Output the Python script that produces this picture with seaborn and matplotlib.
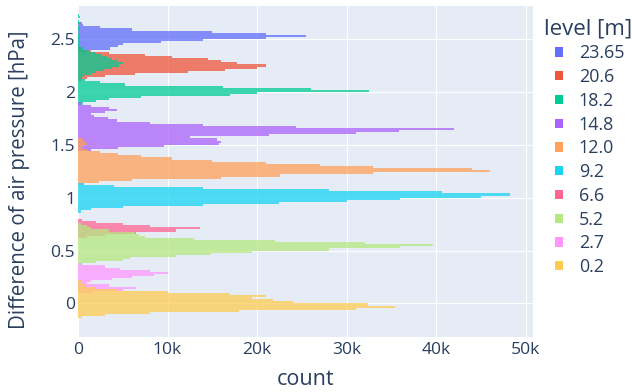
import numpy as np
import pandas as pd
import matplotlib
matplotlib.use("Agg")
import matplotlib.pyplot as plt
from matplotlib.patches import Patch
import seaborn as sns

# measurement levels (legend order) and their colours
levels = ["23.65", "20.6", "18.2", "14.8", "12.0", "9.2", "6.6", "5.2", "2.7", "0.2"]
palette = ["#636EFA", "#EF553B", "#00CC96", "#AB63FA", "#FFA15A",
           "#19D3F3", "#FF6692", "#B6E880", "#FF97FF", "#FECB52"]

bin_width = 0.02  # hPa

# lower edge of the first bin of each level [hPa]
first_edge = [2.38, 2.10, 1.88, 1.44, 1.12, 0.86, 0.62, 0.36, 0.10, -0.14]

# counts per bin in thousands, from low to high pressure difference
n_23_65 = [1, 3.6, 4.5, 5, 9.3, 14, 21, 25.5, 21, 15, 6, 2.5, 0.6, 0.4]
n_20_6 = [0.4, 1, 3, 6.4, 12.3, 16.4, 20, 21, 17.8, 16, 14.5, 10.5, 7.5, 3.5, 1.4, 0.5]
n_18_2 = [0.6, 2, 3.5, 7, 17, 20, 32.5, 26, 16.2, 5.2,
          2.5, 0.8, 0.5, 0.7, 1.4, 2, 2.9, 3.8, 4.6, 5,
          4.5, 3.8, 3.2, 2.6, 2, 1.2, 0.6,
          0.2, 0.1, 0.2, 0.1, 0.2, 0.1, 0.2, 0, 0.2, 0.1, 0, 0.2, 0.1, 0, 0.2, 0.1]
n_14_8 = [1.5, 4.5, 9.6, 15.8, 16, 15.5, 12.5, 21.3, 31, 35.8, 42, 24.4,
          14, 8, 4.3, 3.3, 1.8, 1.5, 3, 4.3, 3.5, 1.5, 0.3]
n_12_0 = [0.5, 2.3, 6, 16, 22.6, 33, 46, 44, 33, 27, 21, 15, 10.5, 7,
          4.5, 2.5, 1, 0.5, 0.7, 1, 0.9, 0.6]
n_9_2 = [0.3, 1.5, 5, 14, 22.4, 30, 36, 45, 48.2, 40.6, 28, 14, 4, 0.7]
n_6_6 = [1, 3, 6.5, 11, 13.6, 8, 5, 2, 0.5]
n_5_2 = [0.5, 2, 5, 5.8, 11, 14.9, 19.4, 28, 36, 39.7, 32, 22, 13, 7.5,
         6.8, 6.4, 3.5, 1.5, 1, 0.3]
n_2_7 = [1.5, 5, 6.5, 3.5, 1, 1.5, 3.8, 6, 8.5, 10.1, 8, 4.7, 3, 0.5]
n_0_2 = [0.5, 3, 8, 18, 31, 35.4, 32.4, 24, 21.8, 19.4, 21, 17, 10, 4.5,
         2, 0.8, 0.5, 0.3]

counts = [n_23_65, n_20_6, n_18_2, n_14_8, n_12_0, n_9_2, n_6_6, n_5_2, n_2_7, n_0_2]

x_ticks = [0, 10000, 20000, 30000, 40000, 50000]
x_labels = ["0", "10k", "20k", "30k", "40k", "50k"]
y_ticks = [0, 0.5, 1, 1.5, 2, 2.5]
y_labels = ["0", "0.5", "1", "1.5", "2", "2.5"]

# long table: one row per bin
frames = []
for lvl, lo, cnt in zip(levels, first_edge, counts):
    cnt = np.asarray(cnt, dtype=float)
    centers = lo + bin_width * (np.arange(len(cnt)) + 0.5)
    frames.append(pd.DataFrame({"level": lvl, "dp": centers, "count": cnt * 1000}))
df = pd.concat(frames, ignore_index=True)

text_col = "#2a3f5f"
sns.set_theme(style="darkgrid", rc={
    "axes.facecolor": "#E5ECF6",
    "figure.facecolor": "white",
    "grid.color": "white",
    "grid.linewidth": 0.8,
    "axes.edgecolor": "none",
    "xtick.color": text_col,
    "ytick.color": text_col,
    "axes.labelcolor": text_col,
    "text.color": text_col,
})
plt.rcParams["font.family"] = ["Open Sans", "DejaVu Sans"]

W, H = 632, 392
fig = plt.figure(figsize=(W / 100, H / 100), dpi=100)
left, right, top, bottom = 78, 532.7, 6, 336.7
ax = fig.add_axes([left / W, 1 - bottom / H, (right - left) / W, (bottom - top) / H])

for lvl, lo, col in zip(levels, first_edge, palette):
    sub = df[df["level"] == lvl]
    hi = lo + bin_width * len(sub)
    sns.histplot(data=sub, y="dp", weights="count",
                 binwidth=bin_width, binrange=(lo, hi),
                 element="step", fill=True, color=col, alpha=0.75,
                 linewidth=0, ax=ax)

ax.axvline(0, color="white", linewidth=1.4, zorder=0.5)
ax.set_axisbelow(True)
ax.set_xlim(0, 50780)
ax.set_ylim(-0.314, 2.812)
ax.set_xticks(x_ticks, x_labels)
ax.set_yticks(y_ticks, y_labels)
ax.tick_params(axis="both", length=0, labelsize=12.6)
ax.tick_params(axis="x", pad=4)
ax.tick_params(axis="y", pad=2)
ax.set_xlabel("count", fontsize=15.5, labelpad=8)
ax.set_ylabel("Difference of air pressure [hPa]", fontsize=14.8)
ax.yaxis.set_label_coords((30 - left) / (right - left), 0.475)
for s in ax.spines.values():
    s.set_visible(False)

fig.text(544 / W, 1 - 29 / H, "level [m]", fontsize=16, va="center", ha="left",
         color=text_col)
handles = [Patch(facecolor=c, edgecolor="none") for c in palette]
fig.legend(handles, levels, loc="upper left", bbox_to_anchor=(555 / W, 1 - 44.5 / H),
           frameon=False, fontsize=12.9, handlelength=0.42, handleheight=0.42,
           handletextpad=0.9, labelspacing=0.32, borderpad=0, borderaxespad=0,
           labelcolor=text_col)

fig.savefig("out.png", dpi=100)
